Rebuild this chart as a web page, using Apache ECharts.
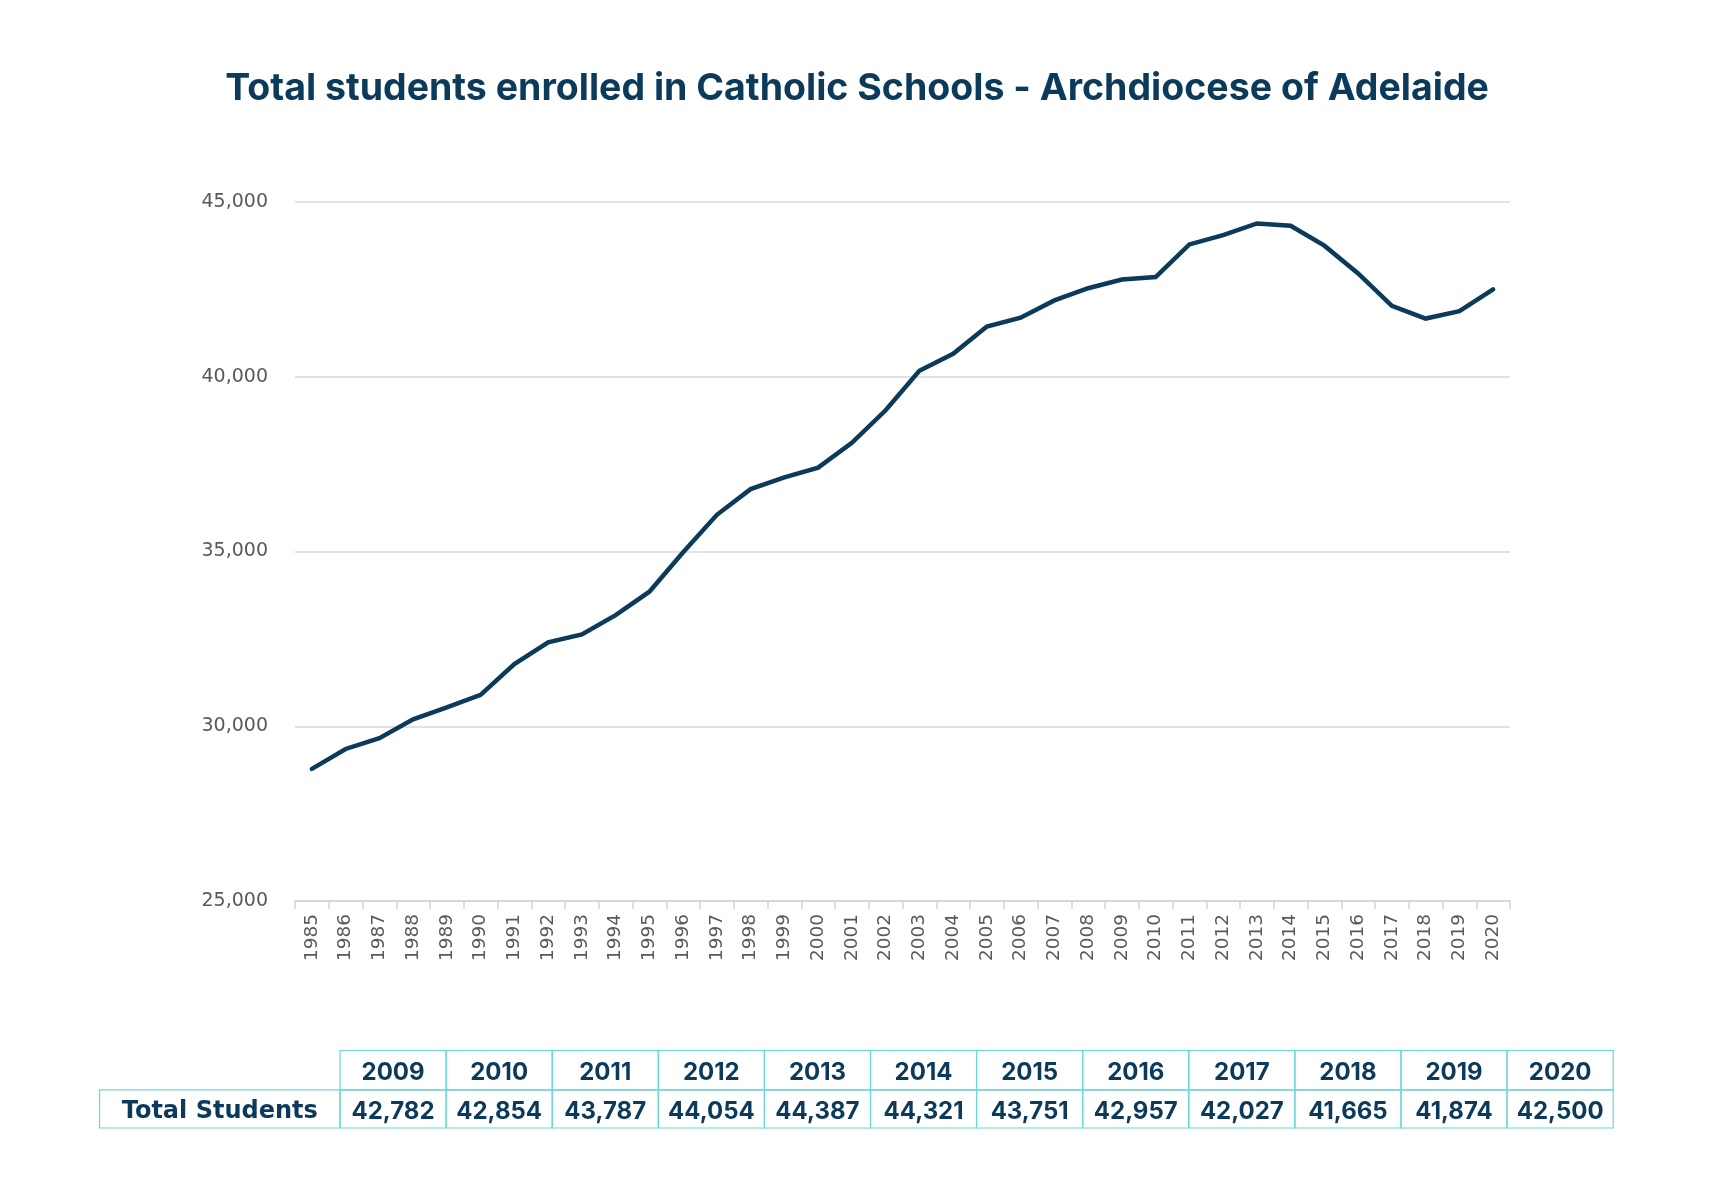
<!DOCTYPE html>
<html>
<head>
<meta charset="utf-8">
<script src="https://cdn.jsdelivr.net/npm/echarts@6/dist/echarts.min.js"></script>
<style>
html,body{margin:0;padding:0;background:#fff;}
#chart{width:1714px;height:1200px;}
</style>
</head>
<body>
<div id="chart"></div>
<script>
// ---- data ----
const titleText = 'Total students enrolled in Catholic Schools - Archdiocese of Adelaide';
const years = ['1985','1986','1987','1988','1989','1990','1991','1992','1993','1994','1995','1996','1997','1998','1999','2000','2001','2002','2003','2004','2005','2006','2007','2008','2009','2010','2011','2012','2013','2014','2015','2016','2017','2018','2019','2020'];
const students = [28780,29350,29660,30200,30540,30900,31780,32400,32630,33180,33850,34980,36050,36785,37120,37400,38110,39040,40170,40655,41438,41690,42185,42532,42782,42854,43787,44054,44387,44321,43751,42957,42027,41665,41874,42500];
const tableYears = ['2009','2010','2011','2012','2013','2014','2015','2016','2017','2018','2019','2020'];
const tableValues = [42782,42854,43787,44054,44387,44321,43751,42957,42027,41665,41874,42500];
const tableRowLabel = 'Total Students';

// ---- styles ----
const navy = '#0b3a5b';
const teal = '#6ad8d8';
const fmt = v => v.toLocaleString('en-US');

// table layout
const tX0 = 99.5, tX1 = 340, colW = 106.1;
const rY0 = 1050.5, rY1 = 1089.8, rY2 = 1128;
const graphics = [];
const cellText = (cx, cy, text, font) => ({
  type: 'text', x: cx, y: cy,
  style: { text: text, fill: navy, font: font, textAlign: 'center', textVerticalAlign: 'middle' }
});
const cellRect = (x, y, w, h) => ({
  type: 'rect', shape: { x: x, y: y, width: w, height: h },
  style: { fill: 'none', stroke: teal, lineWidth: 1.2 }
});
const numFont = '700 24px Inter, "Noto Sans", sans-serif';
const labelFont = 'bold 24px "DejaVu Sans", sans-serif';
graphics.push(cellRect(tX0, rY1, tX1 - tX0, rY2 - rY1));
graphics.push(cellText((tX0 + tX1) / 2, (rY1 + rY2) / 2 + 3, tableRowLabel, labelFont));
tableYears.forEach((y, i) => {
  const x = tX1 + i * colW;
  graphics.push(cellRect(x, rY0, colW, rY1 - rY0));
  graphics.push(cellRect(x, rY1, colW, rY2 - rY1));
  graphics.push(cellText(x + colW / 2, (rY0 + rY1) / 2 + 3, y, numFont));
  graphics.push(cellText(x + colW / 2, (rY1 + rY2) / 2 + 3, fmt(tableValues[i]), numFont));
});

const chart = echarts.init(document.getElementById('chart'), null, { renderer: 'canvas' });
chart.setOption({
  backgroundColor: '#ffffff',
  animation: false,
  title: {
    text: titleText,
    left: 'center',
    top: 65,
    textStyle: { color: navy, fontFamily: 'Inter, "Noto Sans", sans-serif', fontWeight: 700, fontSize: 37.5 }
  },
  grid: { left: 295, right: 204, top: 202, bottom: 299, containLabel: false },
  xAxis: {
    type: 'category',
    data: years,
    boundaryGap: true,
    axisLine: { lineStyle: { color: '#d4d4d4', width: 1.5 } },
    axisTick: { show: true, alignWithLabel: false, length: 8, lineStyle: { color: '#d4d4d4', width: 1.5 } },
    axisLabel: { rotate: 90, interval: 0, margin: 13, color: '#595959', fontSize: 18.5, fontFamily: '"DejaVu Sans", sans-serif' },
    splitLine: { show: false }
  },
  yAxis: {
    type: 'value',
    min: 25000, max: 45000, interval: 5000,
    axisLine: { show: false },
    axisTick: { show: false },
    axisLabel: { margin: 27, color: '#595959', fontSize: 19, fontFamily: '"DejaVu Sans", sans-serif', formatter: v => fmt(v) },
    splitLine: { lineStyle: { color: '#d9d9d9', width: 1.5 } }
  },
  series: [{
    type: 'line',
    data: students,
    symbol: 'none',
    lineStyle: { color: navy, width: 4.5, cap: 'round', join: 'miter' }
  }],
  graphic: graphics
});
</script>
</body>
</html>
